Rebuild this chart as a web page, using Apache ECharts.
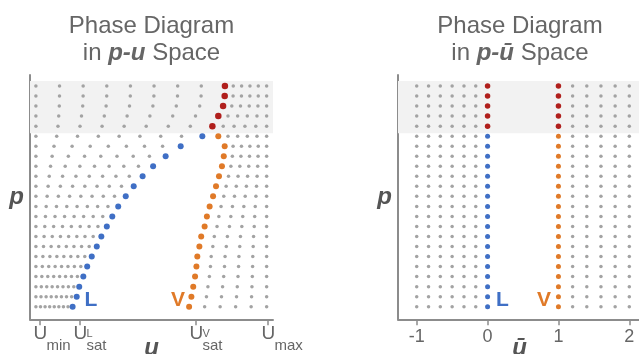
<!DOCTYPE html>
<html><head><meta charset="utf-8">
<script src="https://cdn.jsdelivr.net/npm/echarts@6/dist/echarts.min.js"></script>
<style>html,body{margin:0;padding:0;background:#fff}#c{width:639px;height:354px}</style>
</head><body><div id="c"></div>
<script>
// ---- data ----
// pressure rows (top to bottom)
const pressureLevels = [23,22,21,20,19,18,17,16,15,14,13,12,11,10,9,8,7,6,5,4,3,2,1];
const criticalPressure = 18.5;           // rows above are supercritical
const supercriticalBand = [18.3, 23.5];  // shaded region in p
// saturation energies per row (left panel, u units)
const liquidSatU = [0.811,0.810,0.803,0.782,0.756,0.712,0.617,0.551,0.496,0.450,0.411,0.376,0.343,0.317,0.293,0.269,0.249,0.227,0.207,0.190,0.172,0.161,0.143];
const vaporSatU  = [0.811,0.810,0.803,0.782,0.756,0.782,0.810,0.806,0.798,0.785,0.772,0.759,0.744,0.732,0.722,0.707,0.699,0.690,0.686,0.680,0.672,0.664,0.654];
const uGridMin = -0.018, uGridMax = 0.994;
const liquidGridFractions = [0,0.125,0.25,0.375,0.5,0.625,0.75,0.875];
const vaporGridFractions = [0.2,0.4,0.6,0.8,1.0];
// right panel (reduced energy)
const reducedLiquidGrid = [-1,-0.833,-0.667,-0.5,-0.333,-0.167];
const reducedVaporGrid = [1.2,1.4,1.6,1.8,2.0];
const reducedLiquidSat = 0, reducedVaporSat = 1;
// ticks and axis names
const uTickValues = [0, 0.175, 0.684, 1.0];
const uTickLabels = [['U','','min'],['U','L','sat'],['U','V','sat'],['U','','max']];
const ubarTickValues = [-1,0,1,2];
const axisNames = {left:['u','p'], right:['ū','p']};

// ---- styles ----
const C = {gray:'#a3a3a3', blue:'#3f6fc5', orange:'#e07a28', red:'#b01f1c', band:'#f2f2f2', axis:'#8c8c8c', text:'#666666', name:'#555555'};
const FONT = 'Liberation Sans, Arial, sans-serif';

const L = {gray:[], blue:[], orange:[], red:[]};
pressureLevels.forEach((p,i)=>{
  const uL = liquidSatU[i], uV = vaporSatU[i];
  liquidGridFractions.forEach(f=>L.gray.push([uGridMin + f*(uL-uGridMin), p]));
  vaporGridFractions.forEach(f=>L.gray.push([uV + f*(uGridMax-uV), p]));
  if (p > criticalPressure) L.red.push([uL,p]);
  else { L.blue.push([uL,p]); L.orange.push([uV,p]); }
});
const R = {gray:[], blue:[], orange:[], red:[]};
pressureLevels.forEach(p=>{
  reducedLiquidGrid.forEach(x=>R.gray.push([x,p]));
  reducedVaporGrid.forEach(x=>R.gray.push([x,p]));
  if (p > criticalPressure) { R.red.push([reducedLiquidSat,p]); R.red.push([reducedVaporSat,p]); }
  else { R.blue.push([reducedLiquidSat,p]); R.orange.push([reducedVaporSat,p]); }
});
function phaseLabel(arr, text, color, pos, dist){
  const last = arr[arr.length-1];
  arr[arr.length-1] = {value:last, label:{show:true, formatter:text, position:pos, distance:dist, offset:[0,-6],
    color:color, fontSize:21, fontWeight:'bold', fontFamily:FONT}};
}
phaseLabel(L.blue,'L',C.blue,'right',9);
phaseLabel(L.orange,'V',C.orange,'left',1);
phaseLabel(R.blue,'L',C.blue,'right',6);
phaseLabel(R.orange,'V',C.orange,'left',5);

const W = 0.01, NB = '\u00a0';
const uRich = {
  s2:{width:13, lineHeight:14, fontSize:4, align:'left'},
  U:{fontSize:19, width:13, lineHeight:11, align:'left', color:C.text, fontFamily:FONT},
  sup:{fontSize:11, width:W, lineHeight:2, verticalAlign:'top', align:'left', color:C.text, fontFamily:FONT},
  sub:{fontSize:15, width:W, lineHeight:14, align:'left', color:C.text, fontFamily:FONT}
};
function uFormatter(v){
  let idx=0, best=1e9;
  uTickValues.forEach((t,i)=>{ if(Math.abs(t-v)<best){best=Math.abs(t-v); idx=i;} });
  const [b,sup,sub] = uTickLabels[idx];
  return '{U|'+b+'}'+(sup?'{sup|'+sup+'}':'')+'\n{s2|'+NB+'}{sub|'+sub+'}';
}

const axisLine = {show:true, onZero:false, lineStyle:{color:C.axis, width:2}};
const nameStyle = {fontSize:24, fontStyle:'italic', fontWeight:'bold', color:C.name, fontFamily:FONT};
const titleStyle = {fontSize:24, fontWeight:'normal', color:C.text, fontFamily:FONT, lineHeight:27,
  rich:{bi:{fontSize:24, fontStyle:'italic', fontWeight:'bold', color:C.text, fontFamily:FONT}}};

function scat(name, data, xi, color, size, z, extra){
  return Object.assign({type:'scatter', name, data, xAxisIndex:xi, yAxisIndex:xi, symbol:'circle', symbolSize:size,
    itemStyle:{color, opacity:1}, z, silent:true, animation:false}, extra||{});
}
function band(){
  return {silent:true, itemStyle:{color:C.band}, label:{show:false}, data:[[{yAxis:supercriticalBand[0]},{yAxis:supercriticalBand[1]}]]};
}
const xRanges = [[-0.0439, 1.0219], [-1.264, 2.165]];
const yRange = [-0.256, 24.1];

const option = {
  animation:false,
  title:[
    {text:'Phase Diagram\nin {bi|p-u} Space', left:146.5, textAlign:'center', top:8, textStyle:titleStyle},
    {text:'Phase Diagram\nin {bi|p-ū} Space', left:515, textAlign:'center', top:8, textStyle:titleStyle}
  ],
  grid:[
    {left:30, top:75, width:243, bottom:34.7, containLabel:false, outerBoundsMode:'none'},
    {left:398, top:75, width:243, bottom:34.7, containLabel:false, outerBoundsMode:'none'}
  ],
  xAxis:[
    {type:'value', gridIndex:0, min:xRanges[0][0], max:xRanges[0][1], axisLine, splitLine:{show:false},
     axisTick:{show:true, customValues:uTickValues, length:6, lineStyle:{color:C.axis, width:1.5}},
     axisLabel:{show:true, hideOverlap:false, showMinLabel:true, showMaxLabel:true, customValues:uTickValues, formatter:uFormatter, margin:9, rich:uRich, color:C.text}},
    {type:'value', gridIndex:1, min:xRanges[1][0], max:xRanges[1][1], axisLine, splitLine:{show:false},
     axisTick:{show:true, customValues:ubarTickValues, length:6, lineStyle:{color:C.axis, width:1.5}},
     axisLabel:{show:true, hideOverlap:false, showMinLabel:true, showMaxLabel:true, customValues:ubarTickValues, margin:9, fontSize:18, color:C.text, fontFamily:FONT}}
  ],
  yAxis:[
    {type:'value', gridIndex:0, min:yRange[0], max:yRange[1], axisLine, axisTick:{show:false}, axisLabel:{show:false}, splitLine:{show:false},
     name:axisNames.left[1], nameLocation:'middle', nameRotate:0, nameGap:6, nameTextStyle:nameStyle},
    {type:'value', gridIndex:1, min:yRange[0], max:yRange[1], axisLine, axisTick:{show:false}, axisLabel:{show:false}, splitLine:{show:false},
     name:axisNames.right[1], nameLocation:'middle', nameRotate:0, nameGap:6, nameTextStyle:nameStyle}
  ],
  series:[
    scat('grayL', L.gray, 0, C.gray, 3.5, 2, {markArea:band()}),
    scat('blueL', L.blue, 0, C.blue, 6, 3),
    scat('orangeL', L.orange, 0, C.orange, 6, 3),
    scat('redL', L.red, 0, C.red, 6.5, 3),
    scat('grayR', R.gray, 1, C.gray, 3.5, 2, {markArea:band()}),
    scat('blueR', R.blue, 1, C.blue, 5, 3),
    scat('orangeR', R.orange, 1, C.orange, 5, 3),
    scat('redR', R.red, 1, C.red, 5.5, 3)
  ]
};
const chart = echarts.init(document.getElementById('c'));
chart.setOption(option);
// x-axis titles placed under the middle of each axis
const names = [axisNames.left[0], axisNames.right[0]];
chart.setOption({graphic: names.map((t,i)=>{
  const pt = chart.convertToPixel({gridIndex:i}, [(xRanges[i][0]+xRanges[i][1])/2, yRange[0]]);
  return {type:'text', x:pt[0], y:pt[1]+29, z:10, silent:true,
    style:{text:t, textAlign:'center', textVerticalAlign:'middle', fill:C.name, font:'italic bold 24px Liberation Sans, Arial, sans-serif'}};
})});
</script></body></html>
